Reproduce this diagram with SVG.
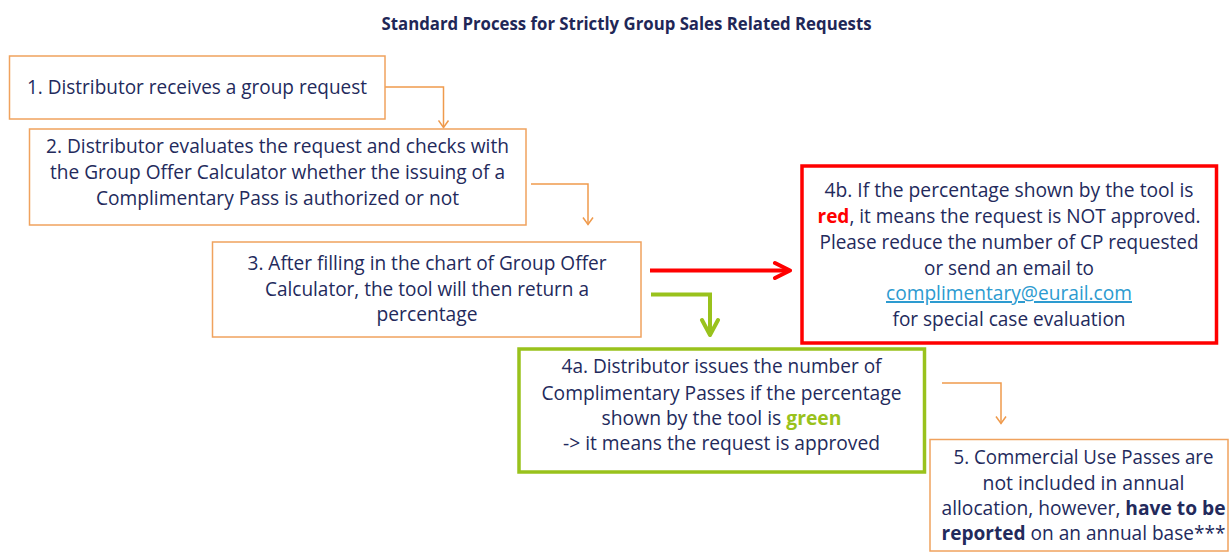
<svg xmlns="http://www.w3.org/2000/svg" width="1229" height="558" viewBox="0 0 1229 558">
<style>
  .box { fill: #ffffff; stroke: #f0a25e; stroke-width: 1.5; }
  .red { fill: #ffffff; stroke: #ff0000; stroke-width: 3.5; }
  .grn { fill: #ffffff; stroke: #99c21c; stroke-width: 3.5; }
  .t { font-family: "Open Sans", "Liberation Sans", sans-serif; font-size: 20px; fill: #232a5c; text-anchor: middle; }
  .title { font-family: "Open Sans", "Liberation Sans", sans-serif; font-size: 17.5px; font-weight: bold; fill: #1f2757; text-anchor: middle; }
  .b { font-weight: bold; }
  .link { fill: #2d9bd0; text-decoration: underline; }
  .oc { fill: none; stroke: #ef9a4c; stroke-width: 1.5; }
  .rc { fill: none; stroke: #ff0000; stroke-width: 4; }
  .gc { fill: none; stroke: #99c21c; stroke-width: 4; }
</style>
<defs>
  <marker id="mo" markerUnits="userSpaceOnUse" viewBox="0 0 12 12" markerWidth="12" markerHeight="12" refX="11" refY="6" orient="auto">
    <path d="M4,1 L11,6 L4,11" fill="none" stroke="#ef9a4c" stroke-width="1.5"/>
  </marker>
  <marker id="mr" markerUnits="userSpaceOnUse" viewBox="0 0 22 22" markerWidth="22" markerHeight="22" refX="18" refY="11" orient="auto">
    <path d="M5,3.5 L20,11 L5,18.5" fill="none" stroke="#ff0000" stroke-width="4" stroke-linejoin="round" stroke-linecap="round"/>
  </marker>
  <marker id="mg" markerUnits="userSpaceOnUse" viewBox="0 0 22 22" markerWidth="22" markerHeight="22" refX="18" refY="11" orient="auto">
    <path d="M5,3 L20,11 L5,19" fill="none" stroke="#99c21c" stroke-width="4" stroke-linejoin="round" stroke-linecap="round"/>
  </marker>
</defs>
<rect width="1229" height="558" fill="#ffffff"/>
<text class="title" x="626.5" y="30" textLength="490" lengthAdjust="spacingAndGlyphs">Standard Process for Strictly Group Sales Related Requests</text>

<g id="connectors">
  <path class="oc" d="M385,87 H443.5 V127.5" marker-end="url(#mo)"/>
  <path class="oc" d="M531,184 H588 V224.5" marker-end="url(#mo)"/>
  <path class="oc" d="M942,383 H1001 V423.5" marker-end="url(#mo)"/>
  <path class="rc" d="M650,270.5 H788" marker-end="url(#mr)"/>
  <path class="gc" d="M651,294.5 H710 V333" marker-end="url(#mg)"/>
</g>

<g id="node1">
  <rect class="box" x="9.5" y="56" width="375.5" height="63"/>
  <text class="t" x="197" y="94" textLength="340" lengthAdjust="spacingAndGlyphs">1. Distributor receives a group request</text>
</g>

<g id="node2">
  <rect class="box" x="29.5" y="129" width="496.5" height="96"/>
  <text class="t" x="277.5" y="153" textLength="463" lengthAdjust="spacingAndGlyphs">2. Distributor evaluates the request and checks with</text>
  <text class="t" x="277.5" y="179" textLength="455" lengthAdjust="spacingAndGlyphs">the Group Offer Calculator whether the issuing of a</text>
  <text class="t" x="277.5" y="205" textLength="363" lengthAdjust="spacingAndGlyphs">Complimentary Pass is authorized or not</text>
</g>

<g id="node3">
  <rect class="box" x="212.5" y="242" width="428.5" height="95"/>
  <text class="t" x="427" y="270" textLength="359" lengthAdjust="spacingAndGlyphs">3. After filling in the chart of Group Offer</text>
  <text class="t" x="427" y="296" textLength="324" lengthAdjust="spacingAndGlyphs">Calculator, the tool will then return a</text>
  <text class="t" x="427" y="321" textLength="101" lengthAdjust="spacingAndGlyphs">percentage</text>
</g>

<g id="node4b">
  <rect class="red" x="802" y="166" width="414.5" height="177"/>
  <text class="t" x="1009" y="197" textLength="369" lengthAdjust="spacingAndGlyphs">4b. If the percentage shown by the tool is</text>
  <text class="t" x="1009" y="223" textLength="383" lengthAdjust="spacingAndGlyphs"><tspan class="b" fill="#ff0000">red</tspan>, it means the request is NOT approved.</text>
  <text class="t" x="1009" y="249" textLength="379" lengthAdjust="spacingAndGlyphs">Please reduce the number of CP requested</text>
  <text class="t" x="1009" y="274.5" textLength="170" lengthAdjust="spacingAndGlyphs">or send an email to</text>
  <text class="t link" x="1009" y="300" textLength="246" lengthAdjust="spacingAndGlyphs">complimentary@eurail.com</text>
  <text class="t" x="1009" y="326" textLength="233" lengthAdjust="spacingAndGlyphs">for special case evaluation</text>
</g>

<g id="node4a">
  <rect class="grn" x="519" y="349" width="405.5" height="123"/>
  <text class="t" x="721.5" y="373" textLength="320" lengthAdjust="spacingAndGlyphs">4a. Distributor issues the number of</text>
  <text class="t" x="721.5" y="399.5" textLength="360" lengthAdjust="spacingAndGlyphs">Complimentary Passes if the percentage</text>
  <text class="t" x="721.5" y="425" textLength="240" lengthAdjust="spacingAndGlyphs">shown by the tool is <tspan class="b" fill="#99c21c">green</tspan></text>
  <text class="t" x="721.5" y="450" textLength="317" lengthAdjust="spacingAndGlyphs">-&gt; it means the request is approved</text>
</g>

<g id="node5">
  <rect class="box" x="930" y="439.5" width="298" height="111.5"/>
  <text class="t" x="1083.5" y="464" textLength="260" lengthAdjust="spacingAndGlyphs">5. Commercial Use Passes are</text>
  <text class="t" x="1083.5" y="490" textLength="202" lengthAdjust="spacingAndGlyphs">not included in annual</text>
  <text class="t" x="1083.5" y="515" textLength="284" lengthAdjust="spacingAndGlyphs">allocation, however, <tspan class="b">have to be</tspan></text>
  <text class="t" x="1083.5" y="540" textLength="284" lengthAdjust="spacingAndGlyphs"><tspan class="b">reported</tspan> on an annual base***</text>
</g>
</svg>
